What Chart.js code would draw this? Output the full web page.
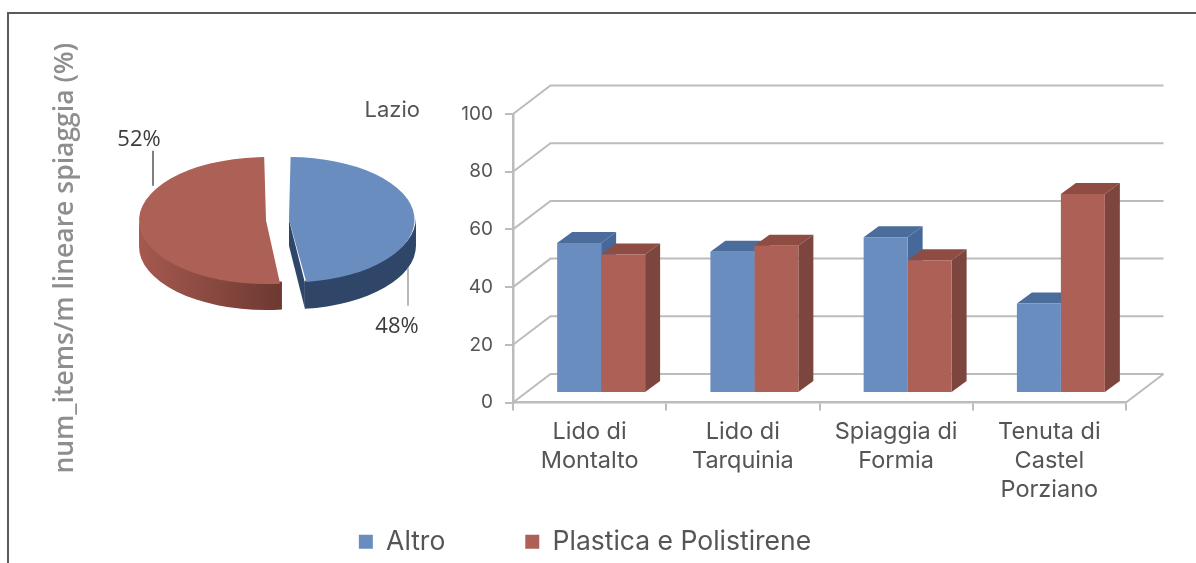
<!DOCTYPE html>
<html><head><meta charset="utf-8">
<script src="https://cdn.jsdelivr.net/npm/chart.js@4/dist/chart.umd.js"></script>
<style>
html,body{margin:0;padding:0;background:#fff;overflow:hidden}
#page{position:relative;width:1196px;height:563px;overflow:hidden;filter:blur(.5px)}
#frame{position:absolute;left:7px;top:12px;width:1300px;height:700px;border:2.5px solid #5a5a5a;box-sizing:border-box}
#bars{position:absolute;left:0;top:0}
#pie{position:absolute;left:100px;top:90px}
</style></head><body>
<div id="page"><div id="frame"></div>
<canvas id="bars" width="1166" height="565"></canvas>
<canvas id="pie" width="360" height="260"></canvas></div>
<script>
const categories=[["Lido di","Montalto"],["Lido di","Tarquinia"],["Spiaggia di","Formia"],["Tenuta di","Castel","Porziano"]];
const seriesNames=["Altro","Plastica e Polistirene"];
const altro=[52,49,54,31];
const plastica=[48,51,46,69];
const yTicks=[0,20,40,60,80,100];
const pieValues=[48,52];
const pieTitle="Lazio";
const yTitle="num_items/m lineare spiaggia (%)";

const BLUE="#6a8dbf",RED="#ad6055",TXT="#555555",GRID="#bcbcbc";
const FONT="Inter, 'Open Sans', sans-serif";
const shades=[{top:"#4a6d9c",side:"#47699a"},{top:"#8e4c43",side:"#7c453d"}];

/* depth of the chart's box and of each bar */
const WALL={dx:37.5,dy:-28.5}, BAR_SHIFT={dx:11.5,dy:-9.5}, BAR_DEPTH={dx:15,dy:-11};

const wall={id:"wall",beforeDatasetsDraw(c){
  const y=c.scales.y,g=c.ctx,a=c.chartArea;
  g.save();g.strokeStyle=GRID;g.lineWidth=2;g.lineCap="butt";
  yTicks.forEach(t=>{const p=y.getPixelForValue(t);
    g.beginPath();g.moveTo(a.left,p);g.lineTo(a.left+WALL.dx,p+WALL.dy);g.lineTo(a.right+WALL.dx,p+WALL.dy);g.stroke();});
  const b=y.getPixelForValue(0);
  g.beginPath();g.moveTo(a.right,b);g.lineTo(a.right+WALL.dx,b+WALL.dy);g.stroke();
  g.restore();
  /* tops and sides of the bars */
  g.save();g.translate(BAR_SHIFT.dx,BAR_SHIFT.dy);
  c.getSortedVisibleDatasetMetas().slice().sort((m,n)=>m.index-n.index).forEach(m=>{
    const s=shades[m.index];
    m.data.forEach(e=>{const l=e.x-e.width/2,r=e.x+e.width/2,t=e.y,bt=e.base,d=BAR_DEPTH;
      g.fillStyle=s.top;g.beginPath();g.moveTo(l,t);g.lineTo(l+d.dx,t+d.dy);g.lineTo(r+d.dx,t+d.dy);g.lineTo(r,t);g.closePath();g.fill();
      g.fillStyle=s.side;g.beginPath();g.moveTo(r,t);g.lineTo(r+d.dx,t+d.dy);g.lineTo(r+d.dx,bt+d.dy);g.lineTo(r,bt);g.closePath();g.fill();
    });
  });
  g.restore();
  g.save();g.translate(BAR_SHIFT.dx,BAR_SHIFT.dy);
},afterDatasetsDraw(c){c.ctx.restore();}};

new Chart(document.getElementById("bars"),{type:"bar",
 data:{labels:categories,datasets:[
  {label:seriesNames[0],data:altro,backgroundColor:BLUE,clip:false},
  {label:seriesNames[1],data:plastica,backgroundColor:RED,clip:false}]},
 plugins:[wall],
 options:{responsive:false,animation:false,
  layout:{padding:{left:44,right:40,top:114,bottom:0}},
  datasets:{bar:{categoryPercentage:.574,barPercentage:1,borderWidth:0}},
  scales:{
   x:{grid:{display:true,drawOnChartArea:false,drawTicks:true,tickLength:8,color:GRID,lineWidth:2,offset:true},
      border:{color:GRID,width:2.5},
      ticks:{color:TXT,font:{family:FONT,size:23.5,lineHeight:1.234},padding:7,maxRotation:0,autoSkip:false},
      afterFit(s){s.height=46;s._computeLabelArea=()=>undefined;}},
   y:{min:0,max:100,grid:{drawOnChartArea:false,tickLength:8,color:GRID,lineWidth:2},
      border:{color:GRID,width:2.5},
      ticks:{stepSize:20,color:TXT,font:{family:FONT,size:19},padding:12},
      title:{display:true,text:yTitle,color:"#8e8e8e",font:{family:"'Open Sans',sans-serif",size:26.5,weight:"600"},padding:{top:6,bottom:0}},
      afterFit(s){s.width=469;}}
  },
  plugins:{tooltip:{enabled:false},
   legend:{position:"bottom",labels:{boxWidth:14,boxHeight:14,padding:80,color:TXT,font:{family:FONT,size:26.5}}}}
 }});

/* pie squashed into an ellipse, with extruded rim */
const SQUASH=.5,RIM=26;
const COLORS=[BLUE,RED];
const pie3d={id:"pie3d",beforeDatasetsDraw(c){
  const g=c.ctx,arcs=c.getDatasetMeta(0).data;
  const a0=arcs[0];
  g.save();
  arcs.forEach((a,i)=>{
    const mid=(a.startAngle+a.endAngle)/2,o=a.options.offset/4,cx=a.x+Math.cos(mid)*o,cy=a.y+Math.sin(mid)*o*SQUASH;
    const R=a.outerRadius+o,Ry=R*SQUASH;
    const s=Math.max(a.startAngle,0),e=Math.min(a.endAngle,Math.PI);
    if(i===0){g.fillStyle="#2f4668";
      g.beginPath();g.moveTo(cx,cy);g.lineTo(cx+Math.cos(e)*R,cy+Math.sin(e)*Ry);
      g.lineTo(cx+Math.cos(e)*R,cy+Math.sin(e)*Ry+RIM);g.lineTo(cx,cy+RIM);g.closePath();g.fill();
      g.fillStyle="#2f4668";
    }else{const grd=g.createLinearGradient(cx-R,0,cx+R*.15,0);
      grd.addColorStop(0,"#a5594f");grd.addColorStop(1,"#6c3830");g.fillStyle=grd;}
    g.beginPath();g.ellipse(cx,cy-2,R,Ry,0,s,e);g.ellipse(cx,cy+RIM,R,Ry,0,e,s,true);g.closePath();g.fill();
  });
  g.restore();
  g.save();g.translate(a0.x,a0.y);g.scale(1,SQUASH);g.translate(-a0.x,-a0.y);
},afterDatasetsDraw(c){
  const g=c.ctx,a0=c.getDatasetMeta(0).data[0];g.restore();
  g.save();g.lineWidth=1.5;g.fillStyle="#3c3c3c";
  g.font="22px 'Open Sans',sans-serif";g.textAlign="center";g.textBaseline="middle";
  const cx=a0.x,cy=a0.y;
  [[cx+130.5,cy+47.5,cy+85.5,cx+119.5,cy+106.5],[cx-124.5,cy-34.5,cy-69.5,cx-138.5,cy-80.5]].forEach((p,i)=>{
    g.strokeStyle=i===0?"#a0a0a0":"#555";
    g.beginPath();g.moveTo(p[0],p[1]);g.lineTo(p[0],p[2]);g.stroke();
    g.fillText(pieValues[i]+"%",p[3],p[4]);
  });
  g.restore();
}};
new Chart(document.getElementById("pie"),{type:"pie",
 data:{labels:seriesNames,datasets:[{data:pieValues,backgroundColor:COLORS,borderWidth:0,offset:46,radius:115.5}]},
 plugins:[pie3d],
 options:{responsive:false,animation:false,
  layout:{padding:{left:35,right:40,top:0,bottom:33}},
  plugins:{legend:{display:false},tooltip:{enabled:false},
   title:{display:true,text:pieTitle,align:"end",color:TXT,font:{family:FONT,size:22,weight:"400"},padding:{top:7,bottom:0}}}
 }});
</script></body></html>
